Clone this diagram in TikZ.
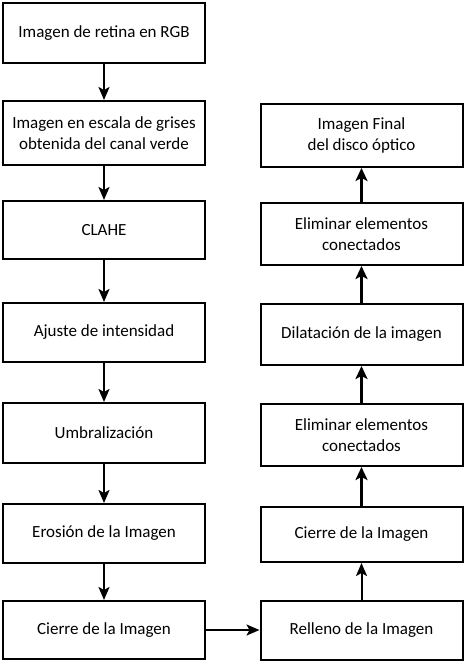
\documentclass[tikz,border=0pt]{standalone}
\usepackage{fontspec}
\setmainfont{Carlito}
\usetikzlibrary{arrows.meta}
\begin{document}
\begin{tikzpicture}[x=1pt,y=-1pt,
  box/.style={draw,line width=2pt,minimum width=202pt,align=center,
    inner sep=0pt,font=\fontsize{17}{20.5}\selectfont},
  arr/.style={line width=2pt,-{Stealth[length=13pt,width=11pt,inset=3pt]}},
  arrb/.style={line width=3pt,-{Stealth[length=13pt,width=12pt,inset=3pt]}}]
\useasboundingbox (0,0) rectangle (466,664);
\node[box,minimum height=60pt] (l1) at (104,33) {Imagen de retina en RGB};
\node[box,minimum height=64pt] (l2) at (104,133) {Imagen en escala de grises\\obtenida del canal verde};
\node[box,minimum height=58pt] (l3) at (104,230) {CLAHE};
\node[box,minimum height=59pt] (l4) at (104,332.5) {Ajuste de intensidad};
\node[box,minimum height=60pt] (l5) at (104,433) {Umbralización};
\node[box,minimum height=59pt] (l6) at (104,533.5) {Erosión de la Imagen};
\node[box,minimum height=58pt] (l7) at (104,630) {Cierre de la Imagen};
\node[box,minimum height=63pt] (r1) at (361.5,135.5) {Imagen Final\\del disco óptico};
\node[box,minimum height=62pt] (r2) at (361.5,234) {Eliminar elementos\\conectados};
\node[box,minimum height=61pt] (r3) at (361.5,334.5) {Dilatación de la imagen};
\node[box,minimum height=62pt] (r4) at (361.5,435) {Eliminar elementos\\conectados};
\node[box,minimum height=55pt] (r5) at (361.5,534.5) {Cierre de la Imagen};
\node[box,minimum height=59pt] (r6) at (361.5,630.5) {Relleno de la Imagen};
\draw[arr] (l1) -- (l2);
\draw[arr] (l2) -- (l3);
\draw[arr] (l3) -- (l4);
\draw[arr] (l4) -- (l5);
\draw[arr] (l5) -- (l6);
\draw[arr] (l6) -- (l7);
\draw[arr] (l7.east) -- (r6.west |- l7.east);
\draw[arr] (r6) -- (r5);
\draw[arrb] (r5) -- (r4);
\draw[arrb] (r4) -- (r3);
\draw[arrb] (r3) -- (r2);
\draw[arrb] (r2) -- (r1);
\end{tikzpicture}
\end{document}
